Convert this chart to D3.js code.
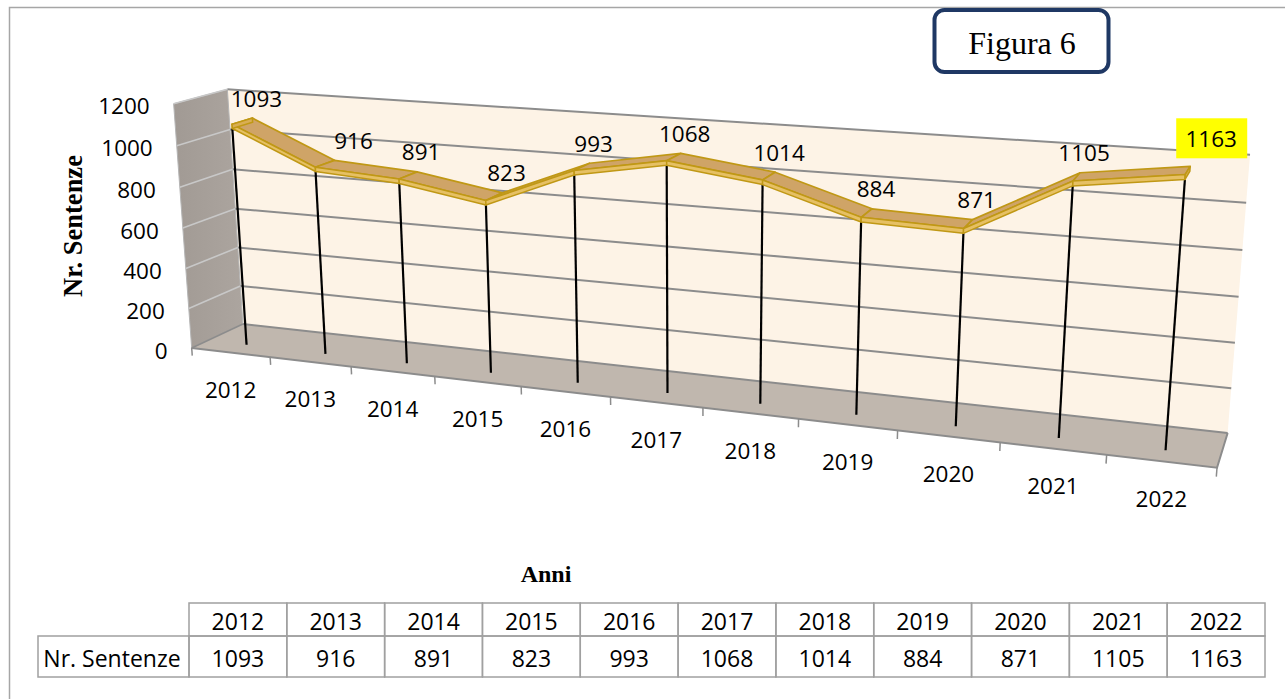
<!DOCTYPE html>
<html>
<head>
<meta charset="utf-8">
<script src="https://cdn.jsdelivr.net/npm/d3@7/dist/d3.min.js"></script>
<style>
  body { margin: 0; background: #fff; }
  svg { display: block; }
  .sans { font-family: "Open Sans", "Noto Sans", sans-serif; fill: #000; }
  .serif { font-family: "Liberation Serif", "Times New Roman", serif; fill: #000; }
</style>
</head>
<body>
<svg id="grafico" width="1285" height="699"></svg>
<script>
(function () {
    /*
     * Dati del grafico
     */
    //Anni (categorie)
    var anni = ["2012", "2013", "2014", "2015", "2016", "2017", "2018", "2019", "2020", "2021", "2022"];
    //Numero di sentenze per anno
    var sentenze = [1093, 916, 891, 823, 993, 1068, 1014, 884, 871, 1105, 1163];
    //Valori dell'asse verticale
    var tickValori = [0, 200, 400, 600, 800, 1000, 1200];
    //Anno con etichetta evidenziata
    var annoEvidenziato = "2022";
    //Spostamenti manuali di alcune etichette (px)
    var spostamentiEtichette = { "2013": [15, 0], "2022": [17, -8] };

    var svg = d3.select("#grafico");

    /*
     * Prospettiva: punti di riferimento del box 3D (mondo x,y,z in [0,1] -> schermo)
     * z = 0 davanti, z = 1 parete di fondo
     */
    var riferimenti = [
        [[0, 0, 0], [192, 348]],
        [[1, 0, 0], [1217, 468]],
        [[0, 1, 0], [173, 103]],
        [[0, 0, 1], [242, 324]],
        [[1, 0, 1], [1228, 432]],
        [[0, 1, 1], [228, 90]],
        [[1, 1, 1], [1250, 155]]
    ];
    //tacche dell'asse delle categorie sul bordo anteriore del pavimento
    var taccheX = [270, 352, 435, 522, 610, 703, 798, 897, 1000, 1107];
    var taccheY = [357.1, 366.7, 376.4, 386.6, 396.9, 407.8, 418.9, 430.5, 442.6, 455.1];
    taccheX.forEach(function (tx, i) {
        riferimenti.push([[(i + 1) / 11, 0, 0], [tx, taccheY[i]]]);
    });

    //Calcolo della matrice di proiezione (DLT ai minimi quadrati)
    var cx = 700, cy = 300, sc = 500;
    function calcolaProiezione(punti) {
        var righe = [], noti = [];
        punti.forEach(function (p) {
            var X = p[0][0], Y = p[0][1], Z = p[0][2];
            var u = (p[1][0] - cx) / sc, v = (p[1][1] - cy) / sc;
            righe.push([X, Y, Z, 1, 0, 0, 0, 0, -u * X, -u * Y, -u * Z]); noti.push(u);
            righe.push([0, 0, 0, 0, X, Y, Z, 1, -v * X, -v * Y, -v * Z]); noti.push(v);
        });
        var n = 11, M = [];
        for (var i = 0; i < n; i++) {
            M[i] = [];
            for (var j = 0; j <= n; j++) {
                var s = 0;
                for (var k = 0; k < righe.length; k++)
                    s += righe[k][i] * (j < n ? righe[k][j] : noti[k]);
                M[i][j] = s;
            }
        }
        //eliminazione di Gauss con pivot parziale
        for (var c = 0; c < n; c++) {
            var piv = c;
            for (var r = c + 1; r < n; r++)
                if (Math.abs(M[r][c]) > Math.abs(M[piv][c])) piv = r;
            var tmp = M[c]; M[c] = M[piv]; M[piv] = tmp;
            for (r = c + 1; r < n; r++) {
                var f = M[r][c] / M[c][c];
                for (var q = c; q <= n; q++) M[r][q] -= f * M[c][q];
            }
        }
        var sol = new Array(n);
        for (i = n - 1; i >= 0; i--) {
            var acc = M[i][n];
            for (j = i + 1; j < n; j++) acc -= M[i][j] * sol[j];
            sol[i] = acc / M[i][i];
        }
        return sol;
    }
    var P = calcolaProiezione(riferimenti);
    function proietta(X, Y, Z) {
        var w = P[8] * X + P[9] * Y + P[10] * Z + 1;
        return [
            (P[0] * X + P[1] * Y + P[2] * Z + P[3]) / w * sc + cx,
            (P[4] * X + P[5] * Y + P[6] * Z + P[7]) / w * sc + cy
        ];
    }

    /*
     * Scale
     */
    var scalaX = d3.scaleBand().domain(anni).range([0, 1]);
    var scalaY = d3.scaleLinear().domain([0, 1200]).range([0, 1]);
    var zFronte = 0.31, zRetro = 0.70, spessore = 0.017;
    function centro(a) { return scalaX(a) + scalaX.bandwidth() / 2; }

    var linea = d3.line();
    function poligono(pts) { return linea(pts.map(function (p) { return proietta(p[0], p[1], p[2]); })) + "Z"; }

    //Cornice (solo lato superiore e sinistro visibili)
    svg.append("path")
        .attr("d", "M9.5,720V7.5H1300")
        .attr("fill", "none").attr("stroke", "#a6a6a6").attr("stroke-width", 1.5);

    var defs = svg.append("defs");
    var grad = defs.append("linearGradient").attr("id", "parete").attr("x1", "0").attr("x2", "1");
    grad.append("stop").attr("offset", "0").attr("stop-color", "#a19a94");
    grad.append("stop").attr("offset", "1").attr("stop-color", "#aca59f");

    var scena = svg.append("g");

    //Parete di fondo
    scena.append("path")
        .attr("d", poligono([[0, 0, 1], [1, 0, 1], [1, 1, 1], [0, 1, 1]]))
        .attr("fill", "#fdf3e6");
    //Parete laterale
    scena.append("path")
        .attr("d", poligono([[0, 0, 0], [0, 0, 1], [0, 1, 1], [0, 1, 0]]))
        .attr("fill", "url(#parete)").attr("stroke", "#b5b5b5").attr("stroke-width", 1);
    //Pavimento
    scena.append("path")
        .attr("d", poligono([[0, 0, 0], [1, 0, 0], [1, 0, 1], [0, 0, 1]]))
        .attr("fill", "#c0b7ae");

    //Griglia sulla parete di fondo e laterale
    tickValori.forEach(function (v) {
        var y = scalaY(v);
        scena.append("path")
            .attr("d", linea([proietta(0, y, 1), proietta(1, y, 1)]))
            .attr("stroke", "#8c8c8c").attr("stroke-width", 2).attr("fill", "none");
        scena.append("path")
            .attr("d", linea([proietta(0, y, 0), proietta(0, y, 1)]))
            .attr("stroke", v === 0 ? "#8c8c8c" : "#c8c8c8").attr("stroke-width", 1.6).attr("fill", "none");
    });
    //Bordi del pavimento
    scena.append("path")
        .attr("d", linea([proietta(0, 0, 0), proietta(1, 0, 0), proietta(1, 0, 1)]))
        .attr("stroke", "#8c8c8c").attr("stroke-width", 2).attr("fill", "none");
    //Tacche asse categorie
    d3.range(anni.length + 1).forEach(function (k) {
        var x = k / anni.length;
        scena.append("path")
            .attr("d", linea([proietta(x, 0, 0), proietta(x, -0.032, 0)]))
            .attr("stroke", "#8c8c8c").attr("stroke-width", 1.5);
    });

    //Etichette asse Y
    scena.selectAll(".tickY").data(tickValori).enter().append("text")
        .attr("class", "sans tickY")
        .attr("x", function (d) { return proietta(0, scalaY(d), 0)[0] - 24; })
        .attr("y", function (d) { return proietta(0, scalaY(d), 0)[1] + 2; })
        .attr("text-anchor", "end").attr("dominant-baseline", "central")
        .attr("font-size", 22.5)
        .text(function (d) { return d; });

    //Etichette categorie
    scena.selectAll(".cat").data(anni).enter().append("text")
        .attr("class", "sans cat")
        .attr("x", function (d) { return proietta(centro(d), 0, 0)[0]; })
        .attr("y", function (d) { return proietta(centro(d), 0, 0)[1] + 37; })
        .attr("text-anchor", "middle").attr("dominant-baseline", "central")
        .attr("font-size", 22.5)
        .text(function (d) { return d; });

    //Punti della serie
    var punti = anni.map(function (a, i) { return { anno: a, valore: sentenze[i], x: centro(a), y: scalaY(sentenze[i]) }; });

    //Linee di proiezione verso il pavimento
    scena.selectAll(".goccia").data(punti).enter().append("path")
        .attr("class", "goccia")
        .attr("d", function (d) { return linea([proietta(d.x, d.y - spessore, zFronte), proietta(d.x, 0, zFronte)]); })
        .attr("stroke", "#000").attr("stroke-width", 2.2).attr("fill", "none");

    //Nastro 3D: faccia superiore
    var segmenti = d3.pairs(punti);
    scena.selectAll(".sopra").data(segmenti).enter().append("path")
        .attr("class", "sopra")
        .attr("d", function (s) {
            return poligono([[s[0].x, s[0].y, zFronte], [s[1].x, s[1].y, zFronte], [s[1].x, s[1].y, zRetro], [s[0].x, s[0].y, zRetro]]);
        })
        .attr("fill", "#cfa467").attr("stroke", "#c09815").attr("stroke-width", 1.7).attr("stroke-linejoin", "round");
    //Nastro 3D: faccia frontale
    scena.selectAll(".fronte").data(segmenti).enter().append("path")
        .attr("class", "fronte")
        .attr("d", function (s) {
            return poligono([[s[0].x, s[0].y, zFronte], [s[1].x, s[1].y, zFronte], [s[1].x, s[1].y - spessore, zFronte], [s[0].x, s[0].y - spessore, zFronte]]);
        })
        .attr("fill", "#e6c064").attr("stroke", "#c09815").attr("stroke-width", 1.5).attr("stroke-linejoin", "round");
    //Facce laterali alle estremità
    [punti[0], punti[punti.length - 1]].forEach(function (d) {
        scena.append("path")
            .attr("d", poligono([[d.x, d.y, zFronte], [d.x, d.y, zRetro], [d.x, d.y - spessore, zRetro], [d.x, d.y - spessore, zFronte]]))
            .attr("fill", "#d9ae55").attr("stroke", "#c09815").attr("stroke-width", 1.5);
    });

    //Etichette dei valori
    var etichette = scena.selectAll(".valore").data(punti).enter().append("g")
        .attr("class", "valore")
        .attr("transform", function (d) {
            var p = proietta(d.x, d.y, zRetro);
            var s = spostamentiEtichette[d.anno] || [0, 0];
            return "translate(" + (p[0] + 4 + s[0]) + "," + (p[1] - 20 + s[1]) + ")";
        });
    etichette.filter(function (d) { return d.anno === annoEvidenziato; })
        .append("rect")
        .attr("x", -35).attr("y", -20).attr("width", 71).attr("height", 40)
        .attr("fill", "#ffff00");
    etichette.append("text")
        .attr("class", "sans")
        .attr("text-anchor", "middle").attr("dominant-baseline", "central")
        .attr("font-size", 22.5)
        .text(function (d) { return d.valore; });

    //Titoli assi
    svg.append("text")
        .attr("class", "serif")
        .attr("transform", "translate(73,226) rotate(-90)")
        .attr("text-anchor", "middle").attr("dominant-baseline", "central")
        .attr("font-size", 26.5).attr("font-weight", "bold")
        .text("Nr. Sentenze");
    svg.append("text")
        .attr("class", "serif")
        .attr("x", 546).attr("y", 574)
        .attr("text-anchor", "middle").attr("dominant-baseline", "central")
        .attr("font-size", 24).attr("font-weight", "bold")
        .text("Anni");

    //Riquadro "Figura 6"
    svg.append("rect")
        .attr("x", 934.5).attr("y", 10).attr("width", 174).attr("height", 62).attr("rx", 10)
        .attr("fill", "#fff").attr("stroke", "#1f3864").attr("stroke-width", 4);
    svg.append("text")
        .attr("class", "serif")
        .attr("x", 1022).attr("y", 43)
        .attr("text-anchor", "middle").attr("dominant-baseline", "central")
        .attr("font-size", 32)
        .text("Figura 6");

    /*
     * Tabella dati
     */
    var colonne = d3.scaleBand().domain(anni).range([189, 1265]);
    var tab = svg.append("g").attr("class", "tabella");
    var righeY = [603, 636, 677];
    //celle
    tab.selectAll(".cella1").data(anni).enter().append("rect")
        .attr("x", function (d) { return colonne(d); }).attr("y", righeY[0])
        .attr("width", colonne.bandwidth()).attr("height", righeY[1] - righeY[0])
        .attr("fill", "none").attr("stroke", "#a0a0a0").attr("stroke-width", 1.5);
    tab.selectAll(".cella2").data(anni).enter().append("rect")
        .attr("x", function (d) { return colonne(d); }).attr("y", righeY[1])
        .attr("width", colonne.bandwidth()).attr("height", righeY[2] - righeY[1])
        .attr("fill", "none").attr("stroke", "#a0a0a0").attr("stroke-width", 1.5);
    tab.append("rect")
        .attr("x", 38).attr("y", righeY[1]).attr("width", 189 - 38).attr("height", righeY[2] - righeY[1])
        .attr("fill", "none").attr("stroke", "#a0a0a0").attr("stroke-width", 1.5);
    tab.append("text").attr("class", "sans")
        .attr("x", 112).attr("y", (righeY[1] + righeY[2]) / 2 + 1)
        .attr("text-anchor", "middle").attr("dominant-baseline", "central")
        .attr("font-size", 23).text("Nr. Sentenze");
    tab.selectAll(".intest").data(anni).enter().append("text")
        .attr("class", "sans")
        .attr("x", function (d) { return colonne(d) + colonne.bandwidth() / 2; })
        .attr("y", (righeY[0] + righeY[1]) / 2 + 1)
        .attr("text-anchor", "middle").attr("dominant-baseline", "central")
        .attr("font-size", 23).text(function (d) { return d; });
    tab.selectAll(".val").data(punti).enter().append("text")
        .attr("class", "sans")
        .attr("x", function (d) { return colonne(d.anno) + colonne.bandwidth() / 2; })
        .attr("y", (righeY[1] + righeY[2]) / 2 + 1)
        .attr("text-anchor", "middle").attr("dominant-baseline", "central")
        .attr("font-size", 23).text(function (d) { return d.valore; });
})();
</script>
</body>
</html>
